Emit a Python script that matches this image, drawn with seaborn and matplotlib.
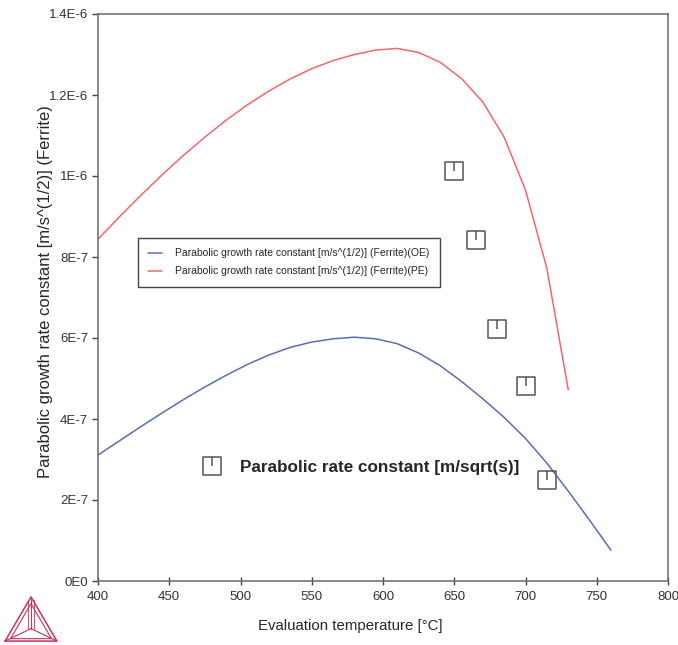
import numpy as np
import seaborn as sns
import matplotlib
matplotlib.use("Agg")
import matplotlib.pyplot as plt
from matplotlib.path import Path

# calculated curves (T in degC, k in m/s^0.5)
temp_pe = [400, 415, 430, 445, 460, 475, 490, 505, 520, 535, 550, 565,
           580, 595, 610, 625, 640, 655, 670, 685, 700, 715, 730]
k_pe = [0.844, 0.899, 0.952, 1.003, 1.051, 1.096, 1.138, 1.176, 1.210, 1.240,
        1.265, 1.285, 1.300, 1.311, 1.315, 1.305, 1.281, 1.241, 1.183, 1.096,
        0.965, 0.772, 0.472]

temp_oe = [400, 415, 430, 445, 460, 475, 490, 505, 520, 535, 550, 565, 580,
           595, 610, 625, 640, 655, 670, 685, 700, 715, 730, 745, 760]
k_oe = [0.311, 0.346, 0.381, 0.415, 0.448, 0.479, 0.508, 0.535, 0.558, 0.577,
        0.590, 0.598, 0.602, 0.598, 0.586, 0.563, 0.532, 0.493, 0.450, 0.404,
        0.352, 0.291, 0.222, 0.150, 0.076]

# experimental points
temp_exp = [650, 665, 680, 700, 715]
k_exp = [1.012, 0.841, 0.621, 0.481, 0.249]

k_pe = np.array(k_pe) * 1e-6
k_oe = np.array(k_oe) * 1e-6
k_exp = np.array(k_exp) * 1e-6

yticks = [0, 2e-7, 4e-7, 6e-7, 8e-7, 1e-6, 1.2e-6, 1.4e-6]
ytick_labels = ["0E0", "2E-7", "4E-7", "6E-7", "8E-7", "1E-6", "1.2E-6", "1.4E-6"]
xticks = [400, 450, 500, 550, 600, 650, 700, 750, 800]

label_oe = "Parabolic growth rate constant [m/s^(1/2)] (Ferrite)(OE)"
label_pe = "Parabolic growth rate constant [m/s^(1/2)] (Ferrite)(PE)"
label_exp = "Parabolic rate constant [m/sqrt(s)]"

sns.set_style("ticks")
plt.rcParams["font.family"] = ["Liberation Sans", "DejaVu Sans"]

fig = plt.figure(figsize=(6.78, 6.45), dpi=100)
ax = fig.add_axes([98 / 678, 1 - 581 / 645, 570 / 678, 567 / 645])

blue = "#5b6cb8"
red = "#f2676e"
gray = "#555555"

sns.lineplot(x=temp_oe, y=k_oe, color=blue, lw=1.1, label=label_oe, ax=ax)
sns.lineplot(x=temp_pe, y=k_pe, color=red, lw=1.1, label=label_pe, ax=ax)

# square marker with a short vertical tick from the top edge
verts = [(-1, -1), (1, -1), (1, 1), (-1, 1), (-1, -1), (0, 1), (0, 0)]
codes = [Path.MOVETO, Path.LINETO, Path.LINETO, Path.LINETO, Path.CLOSEPOLY,
         Path.MOVETO, Path.LINETO]
box_marker = Path(verts, codes)

ax.plot(temp_exp, k_exp, linestyle="", marker=box_marker, markersize=12.5,
        markerfacecolor="none", markeredgecolor=gray, markeredgewidth=1.1,
        label=label_exp)

ax.set_xlim(400, 800)
ax.set_ylim(0, 1.4e-6)
ax.set_xticks(xticks)
ax.set_xticklabels([str(t) for t in xticks])
ax.set_yticks(yticks)
ax.set_yticklabels(ytick_labels)

ax.set_xlabel("Evaluation temperature [°C]", fontsize=10.8)
ax.xaxis.set_label_coords(0.442, -0.067)
ax.set_ylabel("Parabolic growth rate constant [m/s^(1/2)] (Ferrite)",
              fontsize=12)
ax.yaxis.set_label_coords(-0.079, 0.51)

for side in ["left", "right", "top", "bottom"]:
    ax.spines[side].set_visible(True)
    ax.spines[side].set_color("#6a6a6a")
    ax.spines[side].set_linewidth(1.1)

ax.tick_params(axis="x", direction="inout", length=6, width=1, color="#444444",
               labelsize=9.5, labelcolor="#333333", pad=4)
ax.tick_params(axis="y", direction="out", length=4, width=1, color="#444444",
               labelsize=9.5, labelcolor="#333333", pad=3)

handles, labels = ax.get_legend_handles_labels()
leg1 = ax.legend(handles[:2], labels[:2], loc="upper left",
                 bbox_to_anchor=(0.070, 0.605), fontsize=7.5, frameon=True,
                 fancybox=False, framealpha=1, edgecolor="#444444",
                 borderpad=1.0, handlelength=1.35, handletextpad=1.2,
                 labelspacing=0.75, borderaxespad=0)
leg1.get_frame().set_linewidth(1.0)
ax.add_artist(leg1)

leg2 = ax.legend(handles[2:], labels[2:], loc="center left",
                 bbox_to_anchor=(0.1775, 0.201), frameon=False,
                 prop={"size": 12.3, "weight": "bold"},
                 borderpad=0, borderaxespad=0, handlelength=1.5,
                 handletextpad=0.89)

# logo (bottom left)
logo = fig.add_axes([4 / 678, 2 / 645, 54 / 678, 48 / 645])
logo.set_xlim(0, 1)
logo.set_ylim(0, 1)
logo.axis("off")
lc = "#c8325f"
logo.plot([0.02, 0.98, 0.5, 0.02], [0.04, 0.04, 0.96, 0.04], color=lc, lw=1.1)
logo.plot([0.12, 0.88, 0.5, 0.12], [0.09, 0.09, 0.82, 0.09], color=lc, lw=0.8)
for vx, vy in [(0.02, 0.04), (0.98, 0.04), (0.5, 0.96)]:
    logo.plot([0.5, vx], [0.3, vy], color=lc, lw=0.8)
logo.plot([0.45, 0.45], [0.3, 0.9], color=lc, lw=0.6)
logo.plot([0.55, 0.55], [0.3, 0.9], color=lc, lw=0.6)

fig.savefig("out.png", dpi=100)
